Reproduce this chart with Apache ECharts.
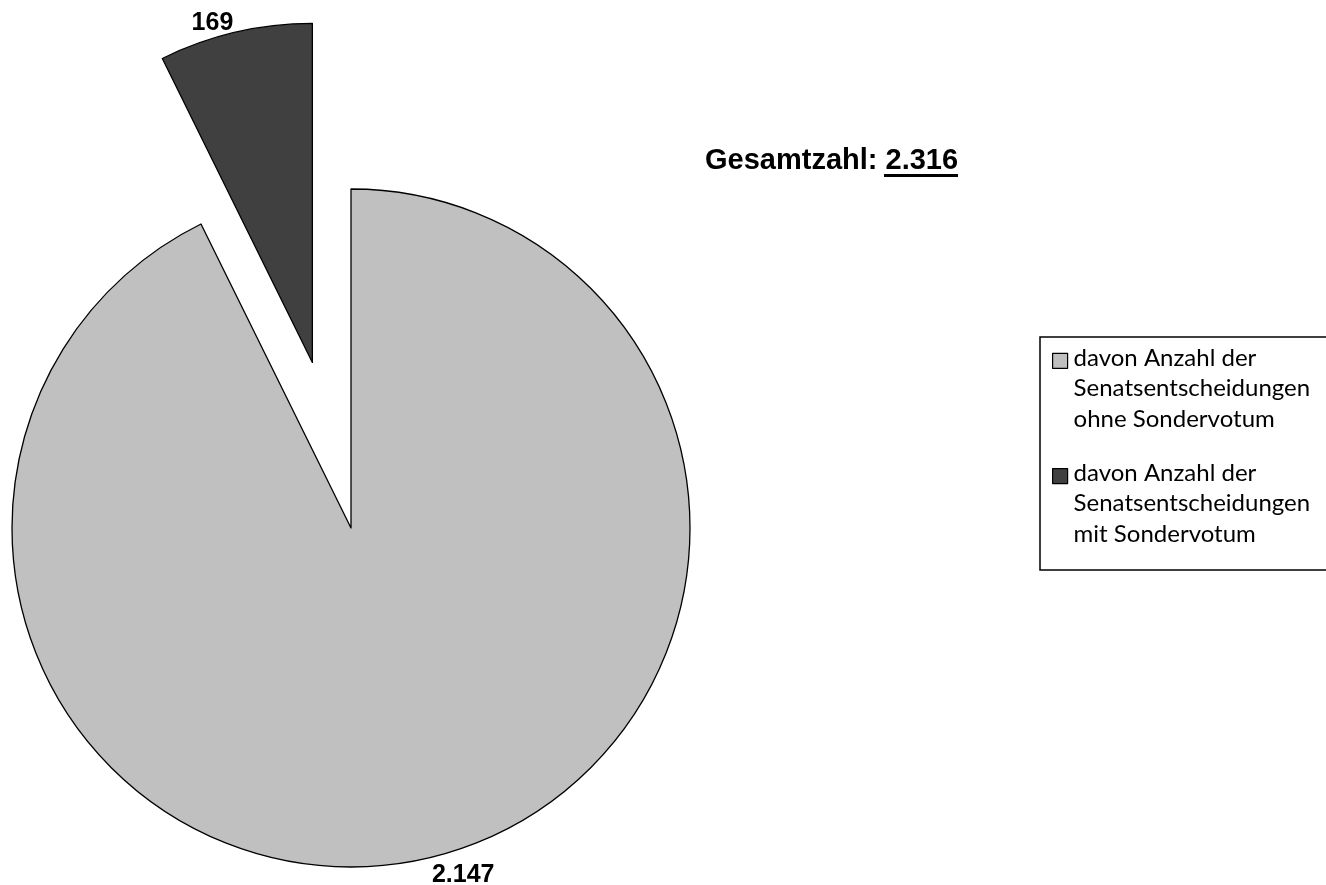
<!DOCTYPE html>
<html>
<head>
<meta charset="utf-8">
<style>
  html, body { margin: 0; padding: 0; background: #fff; }
  #chart { width: 1326px; height: 885px; }
</style>
<script src="https://cdn.jsdelivr.net/npm/echarts@6/dist/echarts.min.js"></script>
</head>
<body>
<div id="chart"></div>
<script>
// Senatsentscheidungen mit / ohne Sondervotum
var categories = [
  'davon Anzahl der\nSenatsentscheidungen\nohne Sondervotum',
  'davon Anzahl der\nSenatsentscheidungen\nmit Sondervotum'
];
var values = [2147, 169];
var colors = ['#c0c0c0', '#404040'];
var exploded = [false, true];
var labelLen = [17, 9];

// deutsche Tausendertrennung
function fmt(n){
  return String(n).replace(/\B(?=(\d{3})+(?!\d))/g, '.');
}

var total = 0;
for (var i = 0; i < values.length; i++) total += values[i];

var pieData = [];
for (var i = 0; i < values.length; i++){
  pieData.push({
    name: categories[i],
    value: values[i],
    selected: exploded[i],
    itemStyle: { color: colors[i] },
    labelLine: { show: false, length: labelLen[i], length2: 0 }
  });
}

var myChart = echarts.init(document.getElementById('chart'));
var option = {
  animation: false,
  backgroundColor: '#fff',
  title: {
    text: '{a|Gesamtzahl: }{a|' + fmt(total) + '}',
    left: 705,
    top: 146,
    padding: 0,
    textStyle: {
      rich: {
        a: { fontFamily: 'Liberation Sans', fontWeight: 'bold', fontSize: 29, color: '#000' }
      }
    }
  },
  legend: {
    orient: 'vertical',
    left: 1040,
    top: 337,
    padding: [5, 80, 20, 12],
    borderColor: '#000',
    borderWidth: 1.5,
    borderRadius: 0,
    itemWidth: 16,
    itemHeight: 91.5,
    itemGap: 22.5,
    selectedMode: false,
    icon: 'path://M0 0 M16 91.5 M0 10.75 L15 10.75 L15 25.75 L0 25.75 Z',
    itemStyle: { borderColor: '#000', borderWidth: 1.2 },
    textStyle: {
      fontFamily: 'Lato',
      fontSize: 24,
      lineHeight: 30.5,
      color: '#000'
    },
    data: categories
  },
  series: [{
    type: 'pie',
    center: [351, 528],
    radius: [0, 339],
    startAngle: 90,
    clockwise: true,
    selectedMode: 'single',
    selectedOffset: 170,
    avoidLabelOverlap: false,
    emphasis: { disabled: true },
    itemStyle: { borderColor: '#000', borderWidth: 1.3 },
    label: {
      show: true,
      position: 'outside',
      distanceToLabelLine: 0,
      fontFamily: 'Liberation Sans',
      fontWeight: 'bold',
      fontSize: 25,
      color: '#000',
      formatter: function(p){ return fmt(p.value); }
    },
    labelLine: { show: false, length: 15, length2: 0 },
    data: pieData
  }],
  graphic: [{
    type: 'rect',
    shape: { x: 884, y: 174, width: 74, height: 3 },
    style: { fill: '#000' }
  }]
};
myChart.setOption(option);
</script>
</body>
</html>
